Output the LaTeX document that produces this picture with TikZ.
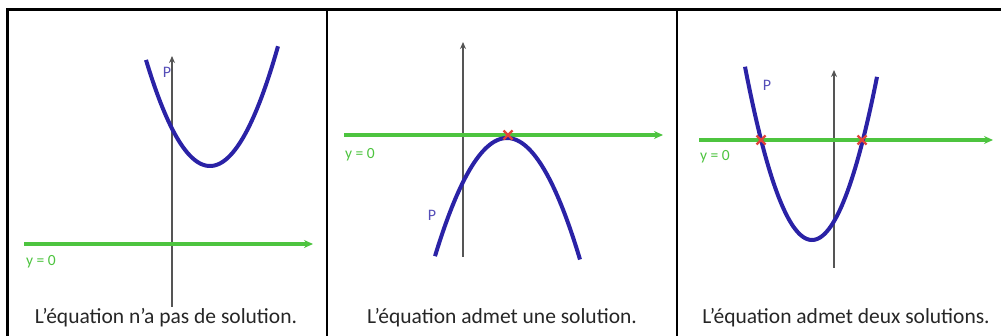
\documentclass[tikz,border=0pt]{standalone}
\usepackage{fontspec}
\setmainfont{Carlito}
\usetikzlibrary{arrows.meta}
\definecolor{pblue}{HTML}{2A22A6}
\definecolor{lgreen}{HTML}{4DC43F}
\definecolor{xred}{HTML}{E0443A}
\definecolor{axgray}{HTML}{555555}
\definecolor{captxt}{HTML}{262626}
\tikzset{
  curve/.style={pblue, line width=4pt},
  zeroline/.style={lgreen, line width=3.6pt, -{Stealth[length=9pt,width=8pt]}},
  axis/.style={axgray, line width=1.6pt, -{Stealth[length=7pt,width=6pt]}},
  frame/.style={black, line width=3pt},
  caption/.style={font=\fontsize{21.5}{24}\selectfont, text=captxt, inner sep=0pt},
  zlabel/.style={font=\fontsize{15.5}{18}\selectfont, text=lgreen, inner sep=0pt, anchor=west},
  plabel/.style={font=\fontsize{16}{18}\selectfont, text=pblue!80, inner sep=0pt},
  cross/.style={xred, line width=2.2pt}
}
\begin{document}
\begin{tikzpicture}[x=1pt,y=-1pt]
\useasboundingbox (0,0) rectangle (1001,336);
\fill[white] (0,0) rectangle (1001,336);
% frame
\draw[frame] (7.5,345) -- (7.5,10) -- (1003,10);
\draw[frame, line width=2.4pt] (327,10) -- (327,345);
\draw[frame, line width=2.4pt] (677,10) -- (677,345);

% ---- panel 1
\coordinate (a1b) at (172,307);
\coordinate (a1t) at (172,56);
\draw[axis] (a1b) -- (a1t);
\coordinate (g1l) at (24,244);
\coordinate (g1r) at (313,244);
\draw[zeroline] (g1l) -- (g1r);
\node[zlabel] (y1) at (26,262) {y = 0};
\draw[curve] plot[domain=146:278, samples=80] (\x, {166-0.0259*(\x-210)^2});
\node[plabel] (p1) at (167,72) {P};
\node[caption] (c1) at (166,318) {L'équation n'a pas de solution.};

% ---- panel 2
\coordinate (a2b) at (463,257);
\coordinate (a2t) at (463,42);
\draw[axis] (a2b) -- (a2t);
\coordinate (g2l) at (344,135);
\coordinate (g2r) at (663,135);
\draw[zeroline] (g2l) -- (g2r);
\node[zlabel] (y2) at (345,155) {y = 0};
\draw[curve] plot[domain=435:580, samples=80] (\x, {138+0.0228*(\x-507)^2});
\node[plabel] (p2) at (432,215) {P};
\coordinate (x2) at (508,135);
\draw[cross] ([shift={(-4.5,-4.5)}]x2) -- ([shift={(4.5,4.5)}]x2) ([shift={(-4.5,4.5)}]x2) -- ([shift={(4.5,-4.5)}]x2);
\node[caption] (c2) at (502,318) {L'équation admet une solution.};

% ---- panel 3
\coordinate (a3b) at (834,268);
\coordinate (a3t) at (834,70);
\draw[axis] (a3b) -- (a3t);
\coordinate (g3l) at (699,140);
\coordinate (g3r) at (993,140);
\draw[zeroline] (g3l) -- (g3r);
\node[zlabel] (y3) at (700,157) {y = 0};
\draw[curve] plot[domain=745:877, samples=80] (\x, {240-0.0386*(\x-812)^2});
\node[plabel] (p3) at (767,85) {P};
\coordinate (x3a) at (761,140);
\coordinate (x3b) at (862,140);
\draw[cross] ([shift={(-4.5,-4.5)}]x3a) -- ([shift={(4.5,4.5)}]x3a) ([shift={(-4.5,4.5)}]x3a) -- ([shift={(4.5,-4.5)}]x3a);
\draw[cross] ([shift={(-4.5,-4.5)}]x3b) -- ([shift={(4.5,4.5)}]x3b) ([shift={(-4.5,4.5)}]x3b) -- ([shift={(4.5,-4.5)}]x3b);
\node[caption] (c3) at (846,318) {L'équation admet deux solutions.};
\end{tikzpicture}
\end{document}
